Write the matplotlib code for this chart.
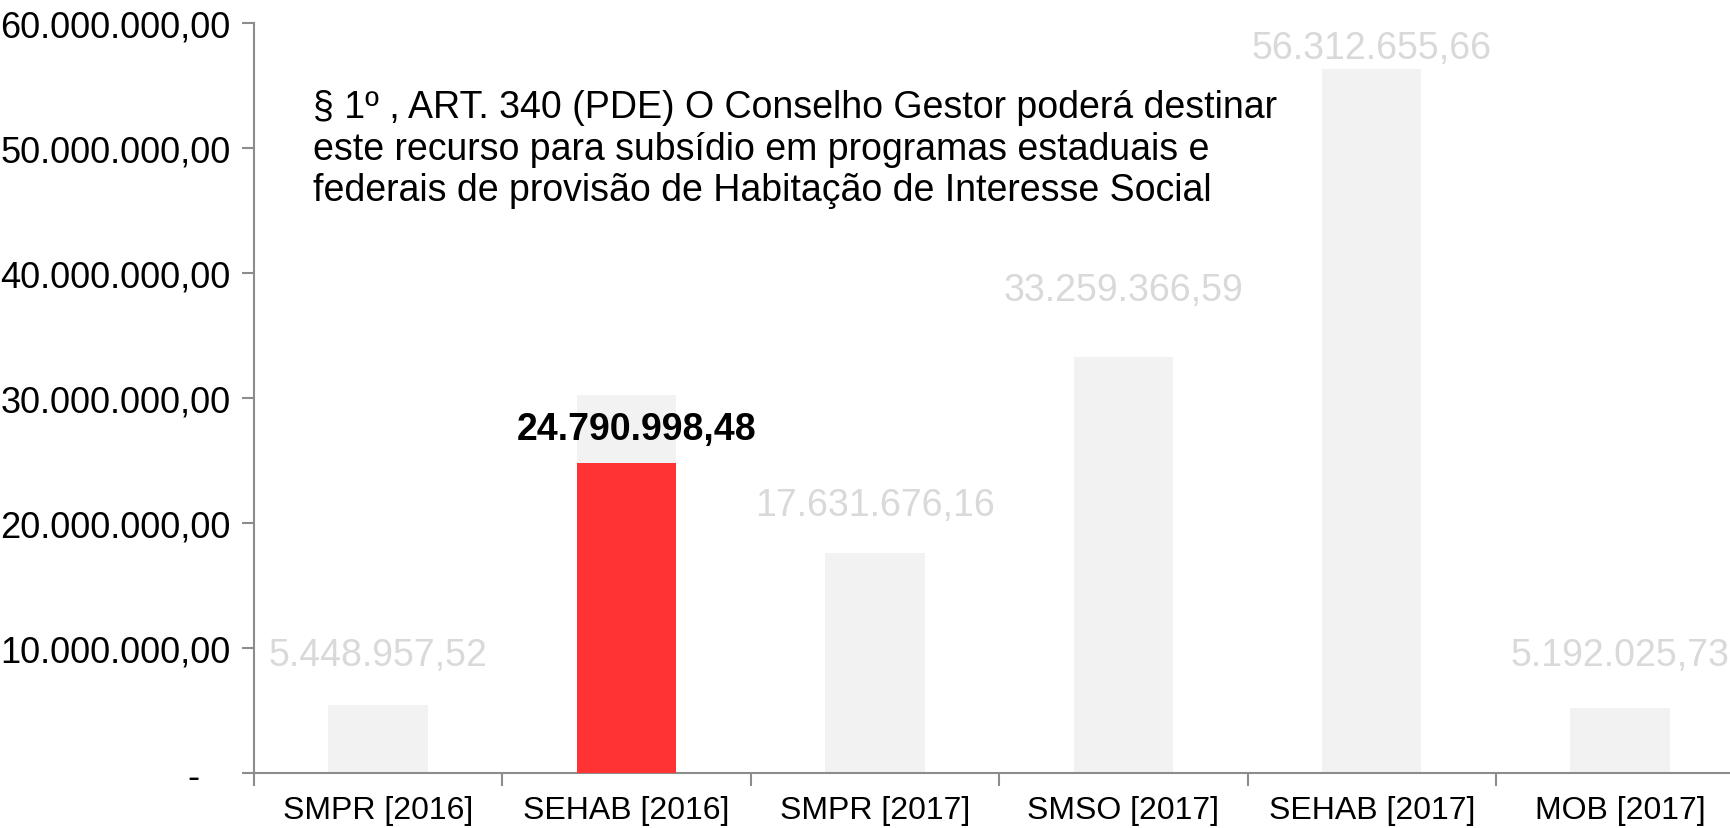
import matplotlib.pyplot as plt
import numpy as np

plt.rcParams['font.family'] = ['Liberation Sans', 'DejaVu Sans']

# Dados (valores em R$)
categorias = ['SMPR [2016]', 'SEHAB [2016]', 'SMPR [2017]', 'SMSO [2017]', 'SEHAB [2017]', 'MOB [2017]']
valores = [5448957.52, 30239956.00, 17631676.16, 33259366.59, 56312655.66, 5192025.73]
rotulos = ['5.448.957,52', '', '17.631.676,16', '33.259.366,59', '56.312.655,66', '5.192.025,73']
destaque_idx = 1
destaque_valor = 24790998.48
destaque_rotulo = '24.790.998,48'
yticks = [0, 10e6, 20e6, 30e6, 40e6, 50e6, 60e6]
ytick_labels = ['-   ', '10.000.000,00', '20.000.000,00', '30.000.000,00',
                '40.000.000,00', '50.000.000,00', '60.000.000,00']
nota = ('§ 1º , ART. 340 (PDE) O Conselho Gestor poderá destinar\n'
        'este recurso para subsídio em programas estaduais e\n'
        'federais de provisão de Habitação de Interesse Social')

# deslocamento vertical dos rótulos acima das barras (estilo)
label_offsets = [4.0e6, 0, 3.8e6, 5.4e6, 1.7e6, 4.25e6]

CINZA = '#f2f2f2'
VERMELHO = '#ff3333'
CINZA_TEXTO = '#d9d9d9'
EIXO = '#8c8c8c'

fig = plt.figure(figsize=(17.31, 8.29), dpi=100)
ax = fig.add_axes([0.1467, 0.0663, 0.861, 0.9047])

x = np.arange(len(categorias))
ax.bar(x, valores, width=0.4, color=CINZA, zorder=2)
ax.bar(x[destaque_idx], destaque_valor, width=0.4, color=VERMELHO, zorder=3)

for i, (v, r) in enumerate(zip(valores, rotulos)):
    if r:
        ax.text(i, v + label_offsets[i], r, ha='center', va='center',
                fontsize=27, color=CINZA_TEXTO, clip_on=False)
ax.text(destaque_idx + 0.04, 27.5e6, destaque_rotulo, ha='center', va='center',
        fontsize=27, fontweight='bold', color='black')

ax.text(-0.262, 54.7e6, nota, ha='left', va='top', fontsize=27,
        linespacing=1.2, color='black')

ax.set_xlim(-0.5, len(categorias) - 0.5)
ax.set_ylim(0, 60e6)

ax.set_yticks(yticks)
ax.set_yticklabels(ytick_labels)
ax.set_xticks(np.arange(len(categorias) + 1) - 0.5)
ax.set_xticklabels([])
ax.set_xticks(x, minor=True)
ax.set_xticklabels(categorias, minor=True)
ax.tick_params(axis='x', which='minor', length=0, pad=16, labelsize=23)
ax.tick_params(axis='x', which='major', length=9, width=1.5, color=EIXO, direction='out')
ax.tick_params(axis='y', length=9, width=1.5, color=EIXO, labelsize=26, pad=8)

for s in ['top', 'right']:
    ax.spines[s].set_visible(False)
for s in ['left', 'bottom']:
    ax.spines[s].set_color(EIXO)
    ax.spines[s].set_linewidth(1.5)

fig.savefig('out.png', dpi=100)
